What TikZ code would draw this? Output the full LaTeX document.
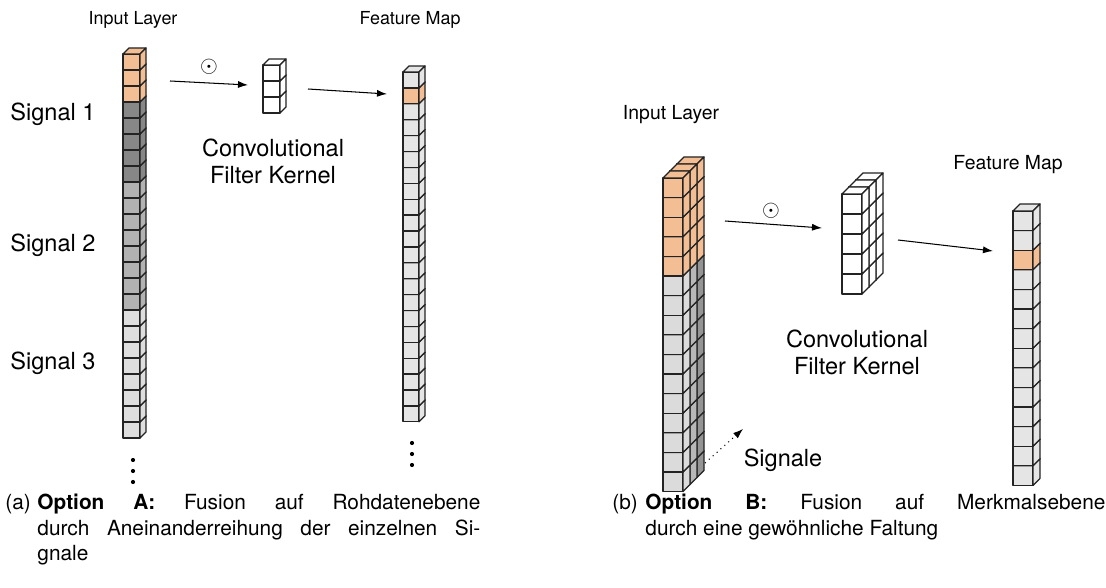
\documentclass[tikz,border=0pt]{standalone}
\usepackage{fontspec}
\setmainfont{TeX Gyre Heros}
\usepackage{amsmath}
\usepackage{amssymb}
\usetikzlibrary{arrows.meta}

\definecolor{cellorange}{RGB}{243,190,148}
\definecolor{celledge}{RGB}{35,35,35}

\tikzset{
    cellface/.style={draw=celledge, line width=0.6pt, line join=round},
    flowarrow/.style={-{Latex[length=4.8pt,width=3.4pt]}, line width=0.5pt},
    txt/.style={font=\fontsize{11.3}{13}\selectfont, inner sep=0pt},
    headA/.style={font=\fontsize{8.6}{10}\selectfont, inner sep=0pt},
    headB/.style={font=\fontsize{9.3}{11}\selectfont, inner sep=0pt},
    capt/.style={font=\fontsize{10}{12.2}\selectfont, inner sep=0pt},
    fmdot/.style={fill=black, draw=none, minimum size=2pt, inner sep=0pt, circle},
}

% one cube: x, y of the front top left corner, fill
\newcommand{\drawcell}[3]{
    \filldraw[cellface, fill=#3] (#1,#2) rectangle ++(\cellw,\cellh);
    \filldraw[cellface, fill=#3] (#1,#2) -- ++(\celld,-\celld) -- ++(\cellw,0) -- ++(-\celld,\celld) -- cycle;
    \filldraw[cellface, fill=#3] (#1+\cellw,#2) -- ++(\celld,-\celld) -- ++(0,\cellh) -- ++(-\celld,\celld) -- cycle;
}

\begin{document}
\begin{tikzpicture}[x=0.48pt, y=-0.48pt]
    \useasboundingbox (0,0) rectangle (1106,588);

            %option A: input layer
            \def\cellw{17}\def\cellh{16}\def\celld{6}
            \foreach \i in {23,...,0} {
                \pgfmathsetmacro{\yy}{54+\i*16}
                \ifnum\i<3 \def\ff{cellorange}\else\ifnum\i<8 \def\ff{black!47}\else\ifnum\i<16 \def\ff{black!30}\else\def\ff{black!13}\fi\fi\fi
                \drawcell{123}{\yy}{\ff}
            }

            %option A: kernel
            \foreach \i in {2,...,0} {
                \pgfmathsetmacro{\yy}{65+\i*16}
                \drawcell{263}{\yy}{white}
            }

            %option A: feature map
            \def\cellw{16}\def\cellh{15.9}\def\celld{6}
            \foreach \i in {21,...,0} {
                \pgfmathsetmacro{\yy}{72+\i*15.9}
                \ifnum\i=1 \def\ff{cellorange}\else\def\ff{black!10}\fi
                \drawcell{403}{\yy}{\ff}
            }

            \node[headA] (inA) at (133,20) {Input Layer};
            \node[headA] (fmA) at (410,20) {Feature Map};
            \node[txt, anchor=west] (sig1) at (10,114) {Signal 1};
            \node[txt, anchor=west] (sig2) at (10,245) {Signal 2};
            \node[txt, anchor=west] (sig3) at (10,363) {Signal 3};
            \node[txt, align=center] (kernA) at (273,161) {Convolutional\\Filter Kernel};
            \node[txt] (odotA) at (209,67) {$\odot$};
            \foreach \k in {0,1,2} {
                \node[fmdot] (dotA\k) at (133,460+\k*11) {};
                \node[fmdot] (dotF\k) at (412,443+\k*11) {};
            }

            \coordinate (a1s) at (170,81);
            \coordinate (a1e) at (248,85);
            \coordinate (a2s) at (308,89);
            \coordinate (a2e) at (387,94);
            \draw[flowarrow] (a1s) -- (a1e);
            \draw[flowarrow] (a2s) -- (a2e);

            %option B: input layer, three signals in depth
            \def\cellw{20}\def\cellh{19.6}\def\celld{7}
            \foreach \l in {2,1,0} {
                \foreach \i in {15,...,0} {
                    \pgfmathsetmacro{\xx}{663+\l*7}
                    \pgfmathsetmacro{\yy}{178+\i*19.6-\l*7}
                    \ifnum\i<5 \def\ff{cellorange}\else
                        \ifcase\l \def\ff{black!14}\or\def\ff{black!28}\or\def\ff{black!42}\fi
                    \fi
                    \drawcell{\xx}{\yy}{\ff}
                }
            }

            %option B: kernel
            \def\cellh{20}
            \foreach \l in {2,1,0} {
                \foreach \i in {4,...,0} {
                    \pgfmathsetmacro{\xx}{842+\l*7}
                    \pgfmathsetmacro{\yy}{194+\i*20-\l*7}
                    \drawcell{\xx}{\yy}{white}
                }
            }

            %option B: feature map
            \def\cellh{19.6}
            \foreach \i in {13,...,0} {
                \pgfmathsetmacro{\yy}{211+\i*19.6}
                \ifnum\i=2 \def\ff{cellorange}\else\def\ff{black!10}\fi
                \drawcell{1013}{\yy}{\ff}
            }

            \node[headB] (inB) at (671,115) {Input Layer};
            \node[headB] (fmB) at (1008,165) {Feature Map};
            \node[txt, align=center] (kernB) at (857,352) {Convolutional\\Filter Kernel};
            \node[txt] (odotB) at (771,211) {$\odot$};
            \node[txt] (sigB) at (783,460) {Signale};

            \coordinate (b1s) at (725,221);
            \coordinate (b1e) at (822,228);
            \coordinate (b2s) at (898,240);
            \coordinate (b2e) at (993,251);
            \coordinate (sgs) at (705,463);
            \coordinate (sge) at (743,429);
            \draw[flowarrow] (b1s) -- (b1e);
            \draw[flowarrow] (b2s) -- (b2e);
            \draw[flowarrow, dotted] (sgs) -- (sge);

            %captions
            \node[capt, anchor=north west] (capAn) at (5,494) {(a)};
            \node[capt, anchor=north west, text width=212.6pt, align=justify] (capA) at (37,494)
                {\textbf{Option A:} Fusion auf Rohdatenebene\linebreak durch Aneinanderreihung der einzelnen Si-\linebreak gnale};
            \node[capt, anchor=north west] (capBn) at (612,494) {(b)};
            \node[capt, anchor=north west, text width=220.8pt, align=justify] (capB) at (645,494)
                {\textbf{Option B:} Fusion auf Merkmalsebene\linebreak durch eine gewöhnliche Faltung};
\end{tikzpicture}
\end{document}
